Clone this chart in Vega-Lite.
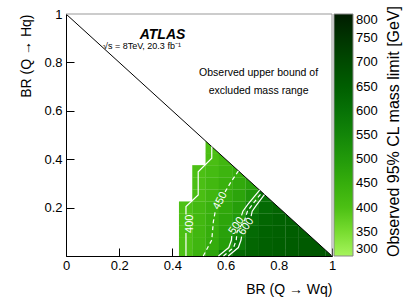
{
  "$schema": "https://vega.github.io/schema/vega-lite/v6.json",
  "width": 266,
  "height": 242,
  "autosize": {"type": "none"},
  "padding": {"left": 66, "top": 14, "right": 83, "bottom": 49},
  "background": "white",
  "config": {"view": {"stroke": null}, "font": "Liberation Sans"},
  "datasets": {
    "cells": [
      {"wq": 0.45, "hq": 0.0, "m": 400}, {"wq": 0.45, "hq": 0.05, "m": 400}, {"wq": 0.45, "hq": 0.1, "m": 401}, {"wq": 0.45, "hq": 0.15, "m": 401}, {"wq": 0.45, "hq": 0.2, "m": 399},
      {"wq": 0.5, "hq": 0.0, "m": 438}, {"wq": 0.5, "hq": 0.05, "m": 428}, {"wq": 0.5, "hq": 0.1, "m": 425}, {"wq": 0.5, "hq": 0.15, "m": 422}, {"wq": 0.5, "hq": 0.2, "m": 420}, {"wq": 0.5, "hq": 0.25, "m": 405}, {"wq": 0.5, "hq": 0.3, "m": 403}, {"wq": 0.5, "hq": 0.35, "m": 400},
      {"wq": 0.55, "hq": 0.0, "m": 478}, {"wq": 0.55, "hq": 0.05, "m": 455}, {"wq": 0.55, "hq": 0.1, "m": 450}, {"wq": 0.55, "hq": 0.15, "m": 445}, {"wq": 0.55, "hq": 0.2, "m": 440}, {"wq": 0.55, "hq": 0.25, "m": 428}, {"wq": 0.55, "hq": 0.3, "m": 422}, {"wq": 0.55, "hq": 0.35, "m": 415}, {"wq": 0.55, "hq": 0.4, "m": 405}, {"wq": 0.55, "hq": 0.45, "m": 400},
      {"wq": 0.6, "hq": 0.0, "m": 565}, {"wq": 0.6, "hq": 0.05, "m": 490}, {"wq": 0.6, "hq": 0.1, "m": 482}, {"wq": 0.6, "hq": 0.15, "m": 472}, {"wq": 0.6, "hq": 0.2, "m": 464}, {"wq": 0.6, "hq": 0.25, "m": 455}, {"wq": 0.6, "hq": 0.3, "m": 443}, {"wq": 0.6, "hq": 0.35, "m": 433}, {"wq": 0.6, "hq": 0.4, "m": 425},
      {"wq": 0.65, "hq": 0.0, "m": 625}, {"wq": 0.65, "hq": 0.05, "m": 580}, {"wq": 0.65, "hq": 0.1, "m": 545}, {"wq": 0.65, "hq": 0.15, "m": 500}, {"wq": 0.65, "hq": 0.2, "m": 490}, {"wq": 0.65, "hq": 0.25, "m": 475}, {"wq": 0.65, "hq": 0.3, "m": 462}, {"wq": 0.65, "hq": 0.35, "m": 450},
      {"wq": 0.7, "hq": 0.0, "m": 640}, {"wq": 0.7, "hq": 0.05, "m": 630}, {"wq": 0.7, "hq": 0.1, "m": 620}, {"wq": 0.7, "hq": 0.15, "m": 600}, {"wq": 0.7, "hq": 0.2, "m": 565}, {"wq": 0.7, "hq": 0.25, "m": 510}, {"wq": 0.7, "hq": 0.3, "m": 485},
      {"wq": 0.75, "hq": 0.0, "m": 650}, {"wq": 0.75, "hq": 0.05, "m": 645}, {"wq": 0.75, "hq": 0.1, "m": 640}, {"wq": 0.75, "hq": 0.15, "m": 630}, {"wq": 0.75, "hq": 0.2, "m": 618}, {"wq": 0.75, "hq": 0.25, "m": 600},
      {"wq": 0.8, "hq": 0.0, "m": 655}, {"wq": 0.8, "hq": 0.05, "m": 650}, {"wq": 0.8, "hq": 0.1, "m": 645}, {"wq": 0.8, "hq": 0.15, "m": 640}, {"wq": 0.8, "hq": 0.2, "m": 632},
      {"wq": 0.85, "hq": 0.0, "m": 660}, {"wq": 0.85, "hq": 0.05, "m": 655}, {"wq": 0.85, "hq": 0.1, "m": 650}, {"wq": 0.85, "hq": 0.15, "m": 645},
      {"wq": 0.9, "hq": 0.0, "m": 668}, {"wq": 0.9, "hq": 0.05, "m": 660}, {"wq": 0.9, "hq": 0.1, "m": 652},
      {"wq": 0.95, "hq": 0.0, "m": 670}, {"wq": 0.95, "hq": 0.05, "m": 662},
      {"wq": 1.0, "hq": 0.0, "m": 665}
    ],
    "edge": [{"wq": 0, "hq": 1}, {"wq": 1, "hq": 0}],
    "frame": [{"i": 0, "wq": 0, "hq": 1}, {"i": 1, "wq": 1, "hq": 1}, {"i": 2, "wq": 1, "hq": 0}],
    "contours": [
      {"c": "400", "seg": "400a", "i": 0, "wq": 0.451, "hq": 0.0},
      {"c": "400", "seg": "400a", "i": 1, "wq": 0.451, "hq": 0.095},
      {"c": "400", "seg": "400b", "i": 0, "wq": 0.451, "hq": 0.172},
      {"c": "400", "seg": "400b", "i": 1, "wq": 0.451, "hq": 0.204},
      {"c": "400", "seg": "400b", "i": 2, "wq": 0.497, "hq": 0.252},
      {"c": "400", "seg": "400b", "i": 3, "wq": 0.497, "hq": 0.348},
      {"c": "400", "seg": "400b", "i": 4, "wq": 0.548, "hq": 0.404},
      {"c": "400", "seg": "400b", "i": 5, "wq": 0.548, "hq": 0.452},
      {"c": "450", "seg": "450a", "i": 0, "wq": 0.516, "hq": 0.0},
      {"c": "450", "seg": "450a", "i": 1, "wq": 0.548, "hq": 0.066},
      {"c": "450", "seg": "450a", "i": 2, "wq": 0.554, "hq": 0.142},
      {"c": "450", "seg": "450a", "i": 3, "wq": 0.562, "hq": 0.19},
      {"c": "450", "seg": "450b", "i": 0, "wq": 0.598, "hq": 0.265},
      {"c": "450", "seg": "450b", "i": 1, "wq": 0.617, "hq": 0.3},
      {"c": "450", "seg": "450b", "i": 2, "wq": 0.648, "hq": 0.352},
      {"c": "500", "seg": "500a", "i": 0, "wq": 0.573, "hq": 0.0},
      {"c": "500", "seg": "500a", "i": 1, "wq": 0.612, "hq": 0.035},
      {"c": "500", "seg": "500a", "i": 2, "wq": 0.622, "hq": 0.066},
      {"c": "500", "seg": "500a", "i": 3, "wq": 0.623, "hq": 0.082},
      {"c": "500", "seg": "500b", "i": 0, "wq": 0.66, "hq": 0.168},
      {"c": "500", "seg": "500b", "i": 1, "wq": 0.665, "hq": 0.185},
      {"c": "500", "seg": "500b", "i": 2, "wq": 0.685, "hq": 0.215},
      {"c": "500", "seg": "500b", "i": 3, "wq": 0.728, "hq": 0.272},
      {"c": "550", "seg": "550a", "i": 0, "wq": 0.592, "hq": 0.0},
      {"c": "550", "seg": "550a", "i": 1, "wq": 0.63, "hq": 0.035},
      {"c": "550", "seg": "550a", "i": 2, "wq": 0.64, "hq": 0.066},
      {"c": "550", "seg": "550a", "i": 3, "wq": 0.643, "hq": 0.1},
      {"c": "550", "seg": "550a", "i": 4, "wq": 0.672, "hq": 0.15},
      {"c": "550", "seg": "550a", "i": 5, "wq": 0.682, "hq": 0.185},
      {"c": "550", "seg": "550a", "i": 6, "wq": 0.7, "hq": 0.212},
      {"c": "550", "seg": "550a", "i": 7, "wq": 0.737, "hq": 0.263},
      {"c": "600", "seg": "600a", "i": 0, "wq": 0.61, "hq": 0.0},
      {"c": "600", "seg": "600a", "i": 1, "wq": 0.648, "hq": 0.035},
      {"c": "600", "seg": "600a", "i": 2, "wq": 0.658, "hq": 0.066},
      {"c": "600", "seg": "600a", "i": 3, "wq": 0.66, "hq": 0.08},
      {"c": "600", "seg": "600b", "i": 0, "wq": 0.696, "hq": 0.165},
      {"c": "600", "seg": "600b", "i": 1, "wq": 0.7, "hq": 0.185},
      {"c": "600", "seg": "600b", "i": 2, "wq": 0.716, "hq": 0.21},
      {"c": "600", "seg": "600b", "i": 3, "wq": 0.746, "hq": 0.254}
    ],
    "clabels": [
      {"label": "400", "wq": 0.466, "hq": 0.133},
      {"label": "450", "wq": 0.58, "hq": 0.228},
      {"label": "500", "wq": 0.641, "hq": 0.125},
      {"label": "600", "wq": 0.678, "hq": 0.122}
    ],
    "notes": [
      {"kind": "atlas", "wq": 0.363, "hq": 0.895, "t": "ATLAS"},
      {"kind": "sub", "wq": 0.139, "hq": 0.855, "t": "√s = 8TeV, 20.3 fb⁻¹"},
      {"kind": "obs", "wq": 0.724, "hq": 0.744, "t": "Observed upper bound of"},
      {"kind": "obs", "wq": 0.724, "hq": 0.669, "t": "excluded mass range"}
    ]
  },
  "encoding": {
    "x": {
      "field": "wq", "type": "quantitative",
      "scale": {"domain": [0, 1], "nice": false, "zero": false},
      "axis": {
        "title": "BR (Q → Wq)",
        "values": [0, 0.1, 0.2, 0.3, 0.4, 0.5, 0.6, 0.7, 0.8, 0.9, 1],
        "tickCount": 10,
        "format": "~g",
        "tickSize": -8, "labelPadding": 11, "labelFontSize": 13, "labelColor": "black",
        "labelOverlap": false, "labelFlush": false, "grid": false,
        "domainColor": "black", "tickColor": "black",
        "titleAnchor": "end", "titleFontSize": 14, "titleFontWeight": "normal", "titleColor": "black", "titlePadding": 10
      }
    },
    "y": {
      "field": "hq", "type": "quantitative",
      "scale": {"domain": [0, 1], "nice": false, "zero": false},
      "axis": {
        "title": "BR (Q → Hq)",
        "values": [0, 0.1, 0.2, 0.3, 0.4, 0.5, 0.6, 0.7, 0.8, 0.9, 1],
        "tickCount": 10,
        "format": "~g",
        "labelExpr": "datum.value > 0.001 ? datum.label : ''",
        "tickSize": -8, "labelPadding": 12, "labelFontSize": 13, "labelColor": "black",
        "labelOverlap": false, "labelFlush": false, "labelBaseline": "middle", "grid": false,
        "domainColor": "black", "tickColor": "black",
        "titleAnchor": "end", "titleFontSize": 14, "titleFontWeight": "normal", "titleColor": "black", "titlePadding": 10
      }
    }
  },
  "layer": [
    {
      "data": {"name": "cells"},
      "mark": {"type": "rect", "clip": true, "width": 13.5, "height": 12.3},
      "encoding": {
        "color": {
          "field": "m", "type": "quantitative",
          "scale": {
            "domain": [300, 350, 400, 450, 500, 550, 600, 650, 700, 750, 800],
            "range": ["#a6f45c", "#78dc30", "#4cc014", "#36ae0c", "#229a0a", "#138608", "#077206", "#005e00", "#004a00", "#003400", "#001c00"],
            "interpolate": "rgb"
          },
          "legend": {
            "orient": "none", "legendX": 268, "legendY": 0, "direction": "vertical",
            "gradientLength": 242, "gradientThickness": 19,
            "gradientStrokeColor": "#888", "gradientStrokeWidth": 1,
            "values": [300, 350, 400, 450, 500, 550, 600, 650, 700, 750, 800],
            "labelFontSize": 13, "labelColor": "black", "labelOffset": 3, "labelOverlap": false, "labelBaseline": "middle",
            "title": "Observed 95% CL mass limit [GeV]",
            "titleOrient": "right", "titleAnchor": "start", "titleFontSize": 16, "titleFontWeight": "normal", "titleColor": "black", "titlePadding": 8, "titleLimit": 400,
            "encode": {"title": {"update": {"angle": {"value": -90}, "align": {"value": "left"}, "baseline": {"value": "top"}}}}
          }
        }
      }
    },
    {
      "data": {"name": "edge"},
      "mark": {"type": "area", "color": "white", "opacity": 1},
      "encoding": {"y2": {"datum": 1}}
    },
    {
      "data": {"name": "edge"},
      "mark": {"type": "line", "color": "black", "strokeWidth": 1},
      "encoding": {}
    },
    {
      "data": {"name": "frame"},
      "mark": {"type": "line", "color": "#999", "strokeWidth": 1},
      "encoding": {"order": {"field": "i"}}
    },
    {
      "data": {"name": "contours"},
      "transform": [{"filter": "datum.c == '400' || datum.c == '500' || datum.c == '600'"}],
      "mark": {"type": "line", "color": "white", "strokeWidth": 1.2},
      "encoding": {"detail": {"field": "seg"}, "order": {"field": "i"}}
    },
    {
      "data": {"name": "contours"},
      "transform": [{"filter": "datum.c == '450' || datum.c == '550'"}],
      "mark": {"type": "line", "color": "white", "strokeWidth": 1.2, "strokeDash": [4, 3]},
      "encoding": {"detail": {"field": "seg"}, "order": {"field": "i"}}
    },
    {
      "data": {"name": "clabels"},
      "transform": [{"filter": "datum.label == '400'"}],
      "mark": {"type": "text", "color": "white", "fontSize": 11, "angle": 270, "align": "center", "baseline": "middle"},
      "encoding": {"text": {"field": "label"}}
    },
    {
      "data": {"name": "clabels"},
      "transform": [{"filter": "datum.label == '450'"}],
      "mark": {"type": "text", "color": "white", "fontSize": 11, "angle": 298, "align": "center", "baseline": "middle"},
      "encoding": {"text": {"field": "label"}}
    },
    {
      "data": {"name": "clabels"},
      "transform": [{"filter": "datum.label == '500' || datum.label == '600'"}],
      "mark": {"type": "text", "color": "white", "fontSize": 11, "angle": 305, "align": "center", "baseline": "middle"},
      "encoding": {"text": {"field": "label"}}
    },
    {
      "data": {"name": "notes"},
      "transform": [{"filter": "datum.kind == 'atlas'"}],
      "mark": {"type": "text", "color": "black", "fontSize": 14, "fontWeight": "bold", "fontStyle": "italic", "align": "center", "baseline": "alphabetic"},
      "encoding": {"text": {"field": "t"}}
    },
    {
      "data": {"name": "notes"},
      "transform": [{"filter": "datum.kind == 'sub'"}],
      "mark": {"type": "text", "color": "black", "fontSize": 9, "align": "left", "baseline": "alphabetic"},
      "encoding": {"text": {"field": "t"}}
    },
    {
      "data": {"name": "notes"},
      "transform": [{"filter": "datum.kind == 'obs'"}],
      "mark": {"type": "text", "color": "black", "fontSize": 10.5, "align": "center", "baseline": "alphabetic"},
      "encoding": {"text": {"field": "t"}}
    }
  ]
}
